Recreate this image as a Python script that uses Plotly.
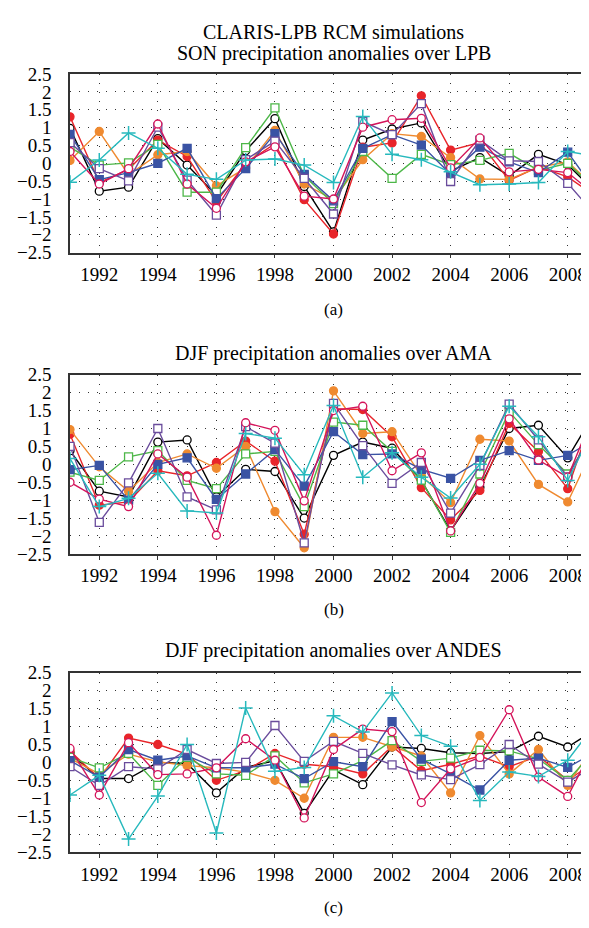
import plotly.graph_objects as go
from plotly.subplots import make_subplots

years = list(range(1991, 2010))
xtick_vals = list(range(1992, 2009, 2))
xtick_text = [str(v) for v in xtick_vals]
ytick_vals = [-2.5, -2, -1.5, -1, -0.5, 0, 0.5, 1, 1.5, 2, 2.5]
ytick_text = ["\u22122.5", "\u22122", "\u22121.5", "\u22121", "\u22120.5", "0", "0.5", "1", "1.5", "2", "2.5"]

titles = ["CLARIS-LPB RCM simulations<br>SON precipitation anomalies over LPB",
          "DJF precipitation anomalies over AMA",
          "DJF precipitation anomalies over ANDES"]
panel_labels = ["(a)", "(b)", "(c)"]

# ---- Panel (a): SON LPB ----
a_black = [0.98, -0.78, -0.67, 0.69, -0.05, -0.9, 0.35, 1.25, -0.65, -1.92, 0.65, 0.96, 1.13, -0.22, 0.16, -0.35, 0.25, -0.04, -0.85]
a_red = [1.3, -0.54, -0.17, 0.65, 0.19, -1.08, 0.0, 0.55, -1.02, -1.98, 0.45, 0.57, 1.89, 0.37, 0.58, -0.48, -0.1, -0.38, -0.95]
a_orange = [0.08, 0.89, -0.32, 0.24, 0.33, -0.63, -0.13, 0.92, -0.58, -1.02, 0.1, 0.83, 0.75, 0.16, -0.44, -0.45, -0.11, 0.04, -0.73]
a_green = [0.45, -0.05, 0.01, 0.53, -0.81, -0.81, 0.44, 1.55, -0.35, -1.13, 0.33, -0.42, 0.25, -0.04, 0.08, 0.28, -0.2, 0.0, -0.75]
a_blue = [0.81, -0.46, -0.26, 0.0, 0.42, -0.99, -0.15, 0.83, -0.31, -1.05, 0.42, 0.8, 0.51, -0.31, 0.45, 0.04, -0.26, 0.31, -0.83]
a_purple = [0.58, -0.15, -0.49, 1.01, -0.47, -1.45, 0.1, 0.62, -0.42, -1.42, 1.17, 0.8, 1.67, -0.51, 0.65, 0.07, 0.05, -0.56, -1.5]
a_magenta = [0.33, -0.58, -0.15, 1.1, -0.58, -1.26, 0.04, 0.46, -0.92, -1.0, 1.01, 1.22, 1.26, -0.13, 0.71, -0.24, -0.17, -0.26, -0.93]
a_cyan = [-0.53, 0.09, 0.85, 0.42, -0.31, -0.45, 0.09, 0.12, -0.05, -0.54, 1.31, 0.25, 0.1, -0.24, -0.6, -0.58, -0.54, 0.33, 0.19]

# ---- Panel (b): DJF AMA ----
b_black = [0.38, -0.75, -0.91, 0.62, 0.68, -0.91, -0.14, -0.2, -1.5, 0.25, 0.62, 0.45, -0.45, -1.86, -0.64, 1.0, 1.09, 0.18, 1.55]
b_red = [0.84, -1.14, -1.05, -0.18, -0.32, 0.05, 0.65, 0.09, -1.95, 1.55, 1.53, 0.77, -0.65, -1.55, -0.73, 1.14, 0.36, -0.68, 1.7]
b_orange = [0.97, -0.07, -0.75, 0.05, 0.29, -0.11, 0.5, -1.32, -2.33, 2.05, 0.86, 0.91, -0.32, -1.07, 0.7, 0.65, -0.56, -1.05, 0.68]
b_green = [-0.22, -0.45, 0.21, 0.38, -0.45, -0.68, 0.29, 0.36, -1.18, 1.18, 1.09, 0.36, -0.44, -1.9, -0.27, 1.47, 0.55, -0.27, 1.0]
b_blue = [-0.15, -0.03, -1.0, 0.0, 0.18, -0.98, -0.27, 0.41, -0.61, 0.91, 0.27, 0.29, -0.14, -0.39, 0.11, 0.38, 0.11, 0.25, 0.73]
b_purple = [0.5, -1.62, -0.52, 1.0, -0.91, -1.27, 1.05, 0.59, -2.19, 1.7, 0.52, -0.53, 0.05, -1.36, -0.03, 1.68, 0.68, -0.35, 1.14]
b_magenta = [-0.5, -0.97, -1.18, 0.29, -0.36, -1.98, 1.16, 0.95, -1.02, 1.5, 1.62, -0.18, 0.32, -1.86, -0.53, 1.27, 0.12, -0.36, 1.64]
b_cyan = [0.16, -1.18, -0.95, -0.25, -1.3, -1.36, 0.86, 0.73, -0.29, 1.64, -0.36, 0.32, -0.36, -0.94, 0.0, 1.62, 0.77, -0.45, 1.18]

# ---- Panel (c): DJF ANDES ----
c_black = [0.27, -0.45, -0.45, 0.0, -0.03, -0.85, -0.14, 0.05, -1.42, -0.21, -0.62, 0.43, 0.39, 0.27, 0.25, 0.3, 0.73, 0.43, 0.95]
c_red = [0.32, -0.45, 0.68, 0.5, 0.23, -0.5, -0.23, 0.25, -0.05, -0.12, -0.32, 0.45, -0.23, -0.05, 0.18, -0.12, 0.18, -0.5, 0.06]
c_orange = [0.11, -0.32, 0.23, 0.02, -0.09, -0.15, -0.27, -0.5, -1.0, 0.7, 0.7, 0.43, 0.18, -0.85, 0.75, -0.32, 0.36, -0.64, 0.61]
c_green = [0.14, -0.15, 0.25, -0.64, 0.14, -0.32, -0.36, 0.18, -0.57, -0.32, 0.05, 0.61, 0.03, 0.12, 0.34, 0.32, 0.1, -0.5, 0.4]
c_blue = [0.05, -0.41, 0.36, 0.06, 0.18, -0.15, -0.15, -0.05, -0.45, 0.02, -0.12, 1.14, 0.09, -0.32, -0.77, 0.06, 0.12, -0.14, 0.32]
c_purple = [-0.12, -0.64, -0.12, -0.18, 0.36, -0.03, 0.0, 1.03, 0.03, 0.59, 0.25, -0.07, -0.35, -0.48, -0.06, 0.5, -0.05, -0.55, -0.06]
c_magenta = [0.39, -0.91, 0.55, -0.34, -0.32, -0.15, 0.66, 0.06, -1.55, 0.36, 0.93, 0.86, -1.12, -0.18, 0.14, 1.47, -0.41, -0.95, 0.64]
c_cyan = [-0.91, -0.36, -2.14, -0.94, 0.5, -1.97, 1.52, -0.25, -0.14, 1.3, 0.85, 1.94, 0.75, 0.45, -1.06, -0.27, -0.39, 0.06, 1.14]

panels = [
    [a_black, a_red, a_orange, a_green, a_blue, a_purple, a_magenta, a_cyan],
    [b_black, b_red, b_orange, b_green, b_blue, b_purple, b_magenta, b_cyan],
    [c_black, c_red, c_orange, c_green, c_blue, c_purple, c_magenta, c_cyan],
]

# style per series: (line colour, marker symbol, filled?)
styles = [
    ("#000000", "circle", False),
    ("#e8252a", "circle", True),
    ("#ef8a30", "circle", True),
    ("#4db748", "square", False),
    ("#3a53a4", "square", True),
    ("#6a4c9c", "square", False),
    ("#d4145a", "circle", False),
    ("#27b9bd", "cross-thin", False),
]

W, H = 589, 928
plot_top = [57.3, 365.0, 670.0]
plot_bot = [240.0, 548.3, 853.3]
title_y = [[14, 36], [343], [647]]
label_y = [298, 605, 910]

FONT = "Liberation Serif"
TICKFONT = dict(family=FONT, size=19, color="black")

fig = make_subplots(rows=3, cols=1)

for p, series in enumerate(panels):
    for s, vals in enumerate(series):
        col, sym, filled = styles[s]
        if sym == "cross-thin":
            marker = dict(symbol="cross-thin", size=10, color=col, line=dict(color=col, width=1.5))
        else:
            marker = dict(symbol=sym, size=8,
                          color=col if filled else "white",
                          line=dict(color=col, width=1.3))
        fig.add_trace(go.Scatter(x=years, y=vals, mode="lines+markers",
                                 line=dict(color=col, width=1.4),
                                 marker=marker, showlegend=False),
                      row=p + 1, col=1)

fig.update_xaxes(range=[1991, 2009], tickmode="array", tickvals=xtick_vals, ticktext=xtick_text,
                 showgrid=True, gridcolor="#333333", griddash="1px,8px", gridwidth=1,
                 showline=True, linecolor="#333333", linewidth=1.5, mirror=True,
                 ticks="outside", ticklen=4, tickcolor="#333333", tickwidth=1.2,
                 zeroline=False, tickfont=TICKFONT, domain=[0, 1])
fig.update_yaxes(range=[-2.5, 2.5], tickmode="array", tickvals=ytick_vals, ticktext=ytick_text,
                 showgrid=True, gridcolor="#333333", griddash="1px,8px", gridwidth=1,
                 showline=True, linecolor="#333333", linewidth=1.5,
                 ticks="outside", ticklen=13, tickcolor="rgba(0,0,0,0)",
                 zeroline=False, tickfont=TICKFONT)
for p in range(3):
    fig.update_yaxes(domain=[1 - plot_bot[p] / H, 1 - plot_top[p] / H], row=p + 1, col=1)

annotations = []
for p in range(3):
    lines = titles[p].split("<br>")
    for i, t in enumerate(lines):
        annotations.append(dict(text=t, x=0.5, xref="paper", y=1 - title_y[p][i] / H, yref="paper",
                                xanchor="center", yanchor="middle", showarrow=False,
                                font=dict(family=FONT, size=20, color="black")))
    annotations.append(dict(text=panel_labels[p], x=0.5, xref="paper", y=1 - label_y[p] / H, yref="paper",
                            xanchor="center", yanchor="middle", showarrow=False,
                            font=dict(family=FONT, size=17, color="black")))

fig.update_layout(width=W, height=H, margin=dict(l=62, r=0, t=0, b=0),
                  paper_bgcolor="white", plot_bgcolor="white",
                  font=dict(family=FONT, color="black", size=19),
                  annotations=annotations, showlegend=False)

fig.write_html("out.html")
